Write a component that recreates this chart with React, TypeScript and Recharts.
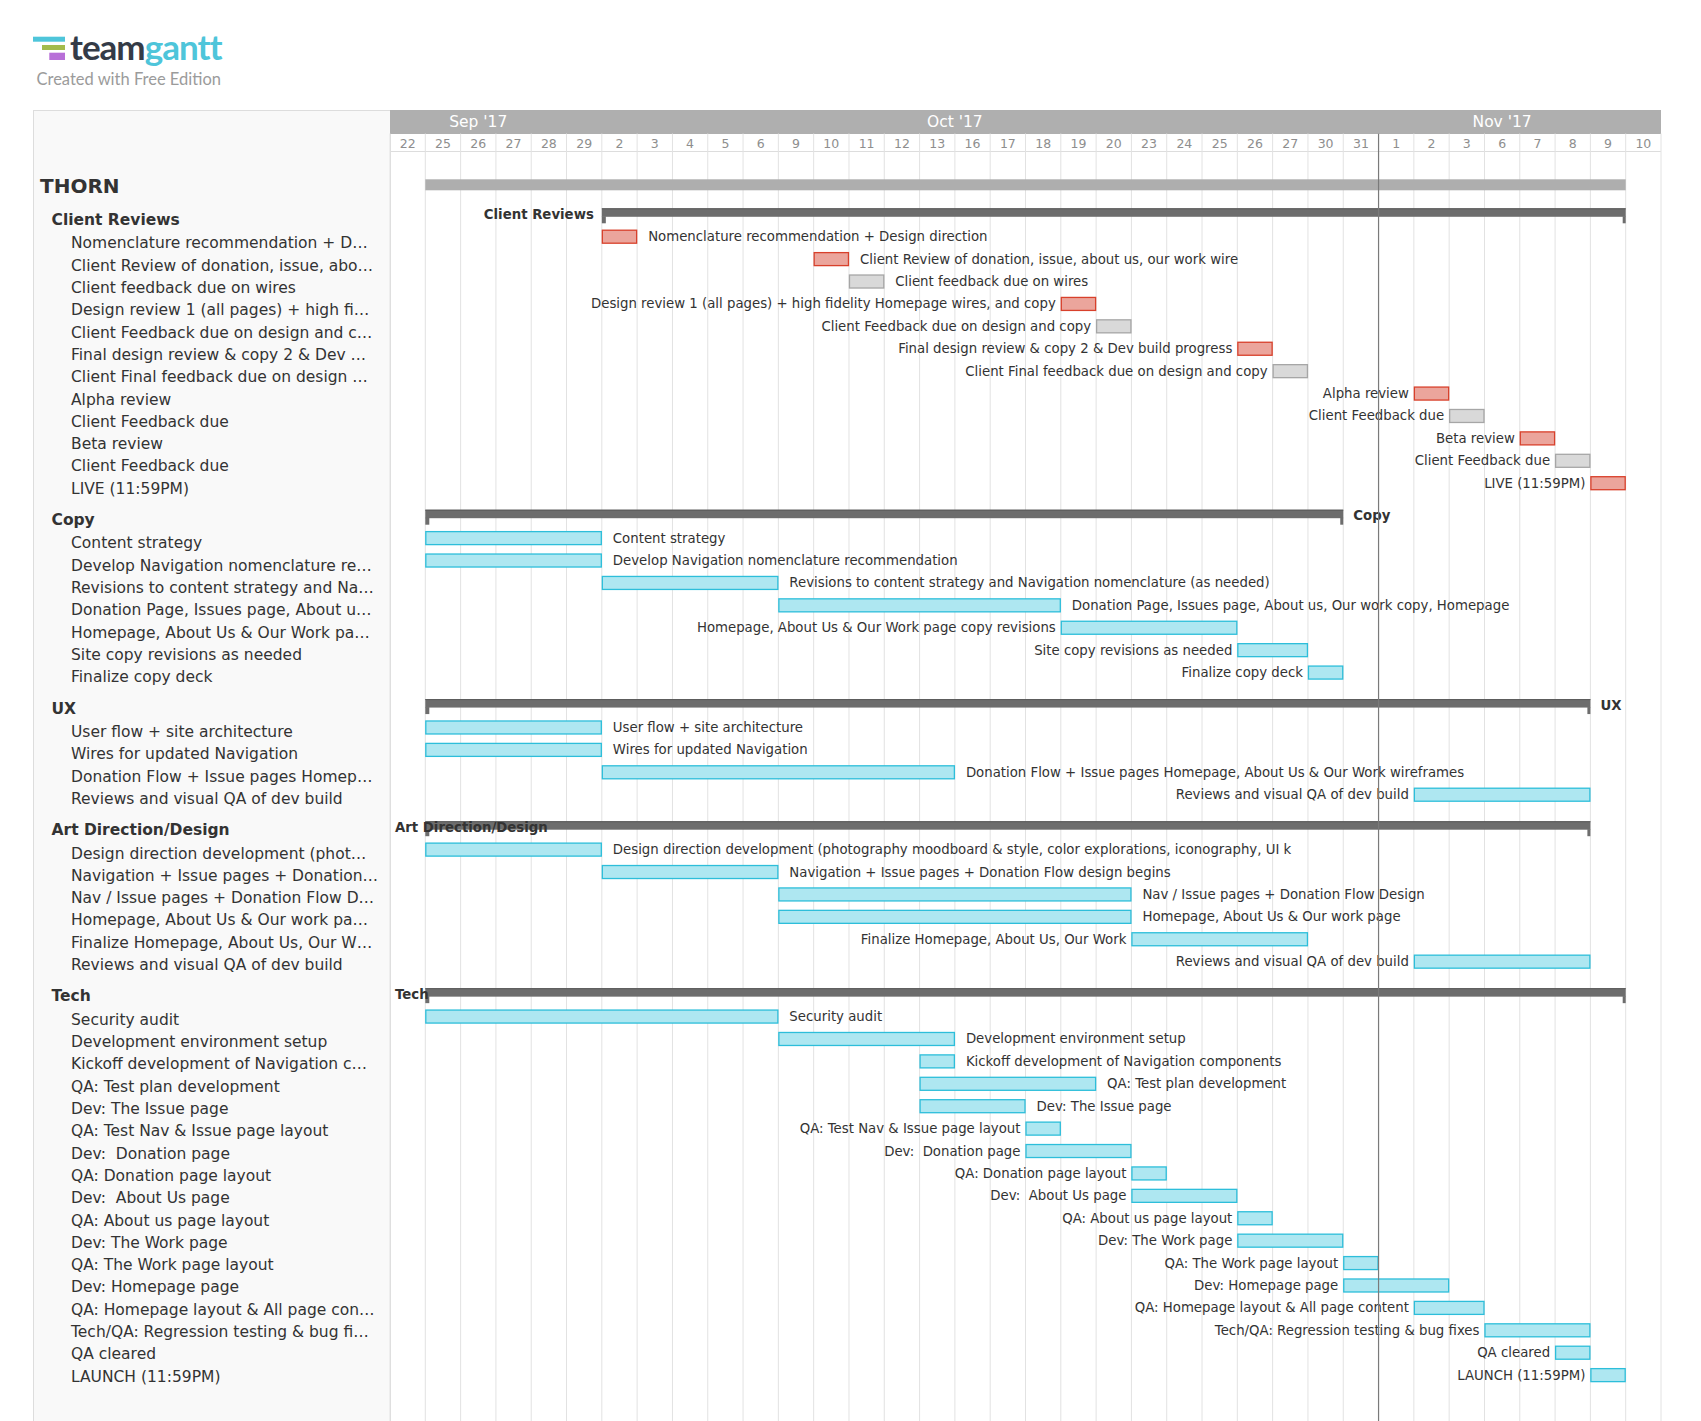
import React from 'react';
import { Bar, BarChart, CartesianGrid, ReferenceLine, XAxis, YAxis } from 'recharts';

// timeline columns (working days only)
const days = ['22', '25', '26', '27', '28', '29', '2', '3', '4', '5', '6', '9', '10', '11', '12', '13', '16', '17', '18', '19', '20', '23', '24', '25', '26', '27', '30', '31', '1', '2', '3', '6', '7', '8', '9', '10'];
const months = ["Sep '17", "Oct '17", "Nov '17"];
const monthMid = [2.5, 16, 31.5];
const todayCol = 28;

const projectName = 'THORN';
const projectSpan = [1, 35];

const groupNames = ['Client Reviews', 'Copy', 'UX', 'Art Direction/Design', 'Tech'];
const groupStart = [6, 1, 1, 1, 1];
const groupEnd = [35, 27, 34, 34, 35];

const reviewTasks = [
  'Nomenclature recommendation + Design direction',
  'Client Review of donation, issue, about us, our work wire',
  'Client feedback due on wires',
  'Design review 1 (all pages) + high fidelity Homepage wires, and copy',
  'Client Feedback due on design and copy',
  'Final design review & copy 2 & Dev build progress',
  'Client Final feedback due on design and copy',
  'Alpha review',
  'Client Feedback due',
  'Beta review',
  'Client Feedback due',
  'LIVE (11:59PM)',
];
const reviewStart = [6, 12, 13, 19, 20, 24, 25, 29, 30, 32, 33, 34];
const reviewEnd = [7, 13, 14, 20, 21, 25, 26, 30, 31, 33, 34, 35];
const reviewKind = ['review', 'review', 'due', 'review', 'due', 'review', 'due', 'review', 'due', 'review', 'due', 'review'];

const copyTasks = [
  'Content strategy',
  'Develop Navigation nomenclature recommendation',
  'Revisions to content strategy and Navigation nomenclature (as needed)',
  'Donation Page, Issues page, About us, Our work copy, Homepage',
  'Homepage, About Us & Our Work page copy revisions',
  'Site copy revisions as needed',
  'Finalize copy deck',
];
const copyStart = [1, 1, 6, 11, 19, 24, 26];
const copyEnd = [6, 6, 11, 19, 24, 26, 27];

const uxTasks = [
  'User flow + site architecture',
  'Wires for updated Navigation',
  'Donation Flow + Issue pages Homepage, About Us & Our Work wireframes',
  'Reviews and visual QA of dev build',
];
const uxStart = [1, 1, 6, 29];
const uxEnd = [6, 6, 16, 34];

const artTasks = [
  'Design direction development (photography moodboard & style, color explorations, iconography, UI k',
  'Navigation + Issue pages + Donation Flow design begins',
  'Nav / Issue pages + Donation Flow Design',
  'Homepage, About Us & Our work page',
  'Finalize Homepage, About Us, Our Work',
  'Reviews and visual QA of dev build',
];
const artStart = [1, 6, 11, 11, 21, 29];
const artEnd = [6, 11, 21, 21, 26, 34];

const techTasks = [
  'Security audit',
  'Development environment setup',
  'Kickoff development of Navigation components',
  'QA: Test plan development',
  'Dev: The Issue page',
  'QA: Test Nav & Issue page layout',
  'Dev:  Donation page',
  'QA: Donation page layout',
  'Dev:  About Us page',
  'QA: About us page layout',
  'Dev: The Work page',
  'QA: The Work page layout',
  'Dev: Homepage page',
  'QA: Homepage layout & All page content',
  'Tech/QA: Regression testing & bug fixes',
  'QA cleared',
  'LAUNCH (11:59PM)',
];
const techStart = [1, 11, 15, 15, 15, 18, 18, 21, 21, 24, 24, 27, 27, 29, 31, 33, 34];
const techEnd = [11, 16, 16, 20, 18, 19, 21, 22, 24, 25, 27, 28, 30, 31, 34, 34, 35];

// how the long names read in the task list on the left
const listLabels: Record<string, string> = {
  'Nomenclature recommendation + Design direction': 'Nomenclature recommendation + D…',
  'Client Review of donation, issue, about us, our work wire': 'Client Review of donation, issue, abo…',
  'Design review 1 (all pages) + high fidelity Homepage wires, and copy': 'Design review 1 (all pages) + high fi…',
  'Client Feedback due on design and copy': 'Client Feedback due on design and c…',
  'Final design review & copy 2 & Dev build progress': 'Final design review & copy 2 & Dev …',
  'Client Final feedback due on design and copy': 'Client Final feedback due on design …',
  'Develop Navigation nomenclature recommendation': 'Develop Navigation nomenclature re…',
  'Revisions to content strategy and Navigation nomenclature (as needed)': 'Revisions to content strategy and Na…',
  'Donation Page, Issues page, About us, Our work copy, Homepage': 'Donation Page, Issues page, About u…',
  'Homepage, About Us & Our Work page copy revisions': 'Homepage, About Us & Our Work pa…',
  'Donation Flow + Issue pages Homepage, About Us & Our Work wireframes': 'Donation Flow + Issue pages Homep…',
  'Design direction development (photography moodboard & style, color explorations, iconography, UI k': 'Design direction development (phot…',
  'Navigation + Issue pages + Donation Flow design begins': 'Navigation + Issue pages + Donation…',
  'Nav / Issue pages + Donation Flow Design': 'Nav / Issue pages + Donation Flow D…',
  'Homepage, About Us & Our work page': 'Homepage, About Us & Our work pa…',
  'Finalize Homepage, About Us, Our Work': 'Finalize Homepage, About Us, Our W…',
  'Kickoff development of Navigation components': 'Kickoff development of Navigation c…',
  'QA: Homepage layout & All page content': 'QA: Homepage layout & All page con…',
  'Tech/QA: Regression testing & bug fixes': 'Tech/QA: Regression testing & bug fi…',
};

type Row = { slot: number; name: string; start: number; end: number; kind: string; level: number };

const sections = [
  { names: reviewTasks, start: reviewStart, end: reviewEnd, kind: reviewKind },
  { names: copyTasks, start: copyStart, end: copyEnd },
  { names: uxTasks, start: uxStart, end: uxEnd },
  { names: artTasks, start: artStart, end: artEnd },
  { names: techTasks, start: techStart, end: techEnd },
];

const rows: Row[] = [];
let slot = 0;
rows.push({ slot, name: projectName, start: projectSpan[0], end: projectSpan[1], kind: 'project', level: 0 });
sections.forEach((sec, g) => {
  slot += 1.45;
  rows.push({ slot, name: groupNames[g], start: groupStart[g], end: groupEnd[g], kind: 'group', level: 1 });
  sec.names.forEach((name, i) => {
    slot += 1;
    rows.push({ slot, name, start: sec.start[i], end: sec.end[i], kind: sec.kind ? sec.kind[i] : 'task', level: 2 });
  });
});
const slots = rows.map((r) => r.slot);

// layout
const W = 1701;
const H = 1421;
const HEADER_TOP = 110;
const BAND_H = 23.5;
const PLOT_LEFT = 390;
const PLOT_RIGHT = 1661;
const PLOT_TOP = HEADER_TOP + BAND_H;
const COL_W = (PLOT_RIGHT - PLOT_LEFT) / days.length;
const ROW_PX = 22.41;
const FIRST_Y = 182;
const barDomain = [(PLOT_TOP - FIRST_Y) / ROW_PX, (H - FIRST_Y) / ROW_PX];
// the side list uses a slightly tighter row pitch than the timeline
const PANEL_ROW = 22.31;
const PANEL_FIRST = 193.7;
const gridTicks = Array.from({ length: days.length + 1 }, (_, i) => i);

const FONT = '"DejaVu Sans", Verdana, sans-serif';
const TEXT = '#333333';
const LABEL_SIZE = 13.3;

let ctx: CanvasRenderingContext2D | null = null;
const measure = (text: string, font: string) => {
  if (!ctx) ctx = document.createElement('canvas').getContext('2d');
  if (!ctx) return text.length * 7.5;
  ctx.font = font;
  return ctx.measureText(text).width;
};

const colors: Record<string, { fill: string; stroke: string }> = {
  task: { fill: '#AEE7F1', stroke: '#2DBEDA' },
  review: { fill: '#EBA59C', stroke: '#D8402B' },
  due: { fill: '#D9D9D9', stroke: '#A6A6A6' },
};

const barRange = (d: Row) => [d.start, d.end];

const renderBar = (props: any) => {
  const { x, y, width, height, payload } = props;
  if (x == null || y == null) return <g />;
  const r = payload as Row;
  const cy = y + height / 2;
  const x2 = x + width;
  if (r.kind === 'project') {
    return <rect x={x} y={cy - 2.5} width={width} height={11} fill="#AEAEAE" />;
  }
  if (r.kind === 'group') {
    const f = `bold ${LABEL_SIZE}px ${FONT}`;
    const w = measure(r.name, f);
    const right = x2 + 10 + w <= PLOT_RIGHT;
    const lx = right ? x2 + 10 : Math.max(x - 8 - w, PLOT_LEFT + 5);
    return (
      <g>
        <rect x={x} y={cy - 6} width={width} height={8.5} fill="#6D6D6D" />
        <rect x={x} y={cy - 6} width={width} height={1} fill="#5A5A5A" />
        <rect x={x} y={cy + 2} width={4} height={7} fill="#6D6D6D" />
        <rect x={x2 - 3} y={cy + 2} width={3} height={7} fill="#6D6D6D" />
        <text x={lx} y={cy + 4.5} fontFamily={FONT} fontSize={LABEL_SIZE} fontWeight="bold" fill={TEXT}>
          {r.name}
        </text>
      </g>
    );
  }
  const c = colors[r.kind];
  const left = r.start >= days.length / 2;
  return (
    <g>
      <rect x={x + 0.5} y={cy - 6.5} width={width - 1} height={13} fill={c.fill} stroke={c.stroke} strokeWidth={1.3} />
      <text
        x={left ? x - 5 : x2 + 11}
        y={cy + 4.5}
        textAnchor={left ? 'end' : 'start'}
        fontFamily={FONT}
        fontSize={LABEL_SIZE}
        fill={TEXT}
        style={{ whiteSpace: 'pre' }}
      >
        {r.name}
      </text>
    </g>
  );
};

const renderDayTick = (props: any) => {
  const { x, index, payload } = props;
  if (index >= days.length) return <g />;
  const v = payload.value;
  return (
    <g>
      <text x={x + COL_W / 2} y={148} textAnchor="middle" fontFamily={FONT} fontSize={12.5} fill="#8E8E8E">
        {days[index]}
      </text>
      {months.map((m, k) =>
        Math.floor(monthMid[k]) === v ? (
          <text key={m} x={x + (monthMid[k] - v) * COL_W} y={127} textAnchor="middle" fontFamily={FONT} fontSize={15.5} fill="#FFFFFF">
            {m}
          </text>
        ) : null,
      )}
    </g>
  );
};

const renderPanelTick = (props: any) => {
  const { y, index } = props;
  const r = rows[index];
  if (!r) return <g />;
  const ty = y + (PANEL_FIRST - FIRST_Y) + r.slot * (PANEL_ROW - ROW_PX);
  if (r.level === 0) {
    return (
      <text x={40} y={ty - 1} fontFamily={FONT} fontSize={20} fontWeight="bold" fill={TEXT}>
        {r.name}
      </text>
    );
  }
  if (r.level === 1) {
    return (
      <text x={51.5} y={ty - 1} fontFamily={FONT} fontSize={15.5} fontWeight="bold" fill={TEXT}>
        {r.name}
      </text>
    );
  }
  return (
    <text x={71} y={ty} fontFamily={FONT} fontSize={15.5} fill={TEXT} style={{ whiteSpace: 'pre' }}>
      {listLabels[r.name] ?? r.name}
    </text>
  );
};

export default function App() {
  return (
    <div style={{ position: 'absolute', left: 0, top: 0, width: W, height: H, background: '#FFFFFF', overflow: 'hidden' }}>
      <div
        style={{
          position: 'absolute',
          left: 33,
          top: HEADER_TOP,
          width: PLOT_LEFT - 34,
          height: H,
          background: '#F9F9F9',
          border: '1px solid #DDDDDD',
        }}
      />
      <div style={{ position: 'absolute', left: PLOT_LEFT, top: HEADER_TOP, width: PLOT_RIGHT - PLOT_LEFT, height: BAND_H, background: '#AFAFAF' }} />
      <div style={{ position: 'absolute', left: PLOT_LEFT, top: 150.5, width: PLOT_RIGHT - PLOT_LEFT, height: 1, background: '#DDDDDD' }} />
      <svg style={{ position: 'absolute', left: 0, top: 0 }} width={260} height={100}>
        <rect x={33} y={36.7} width={32} height={5} fill="#4EC5DA" />
        <rect x={42} y={45} width={23} height={5} fill="#A3BB4C" />
        <rect x={49.3} y={52.7} width={15.7} height={7.3} fill="#B86FD8" />
        <text x={70} y={60} fontFamily="Lato, sans-serif" fontWeight="bold" fontSize={35} letterSpacing={-1}>
          <tspan fill="#343B47">team</tspan>
          <tspan fill="#4EC5DA">gantt</tspan>
        </text>
        <text x={36.5} y={85} fontFamily="Lato, sans-serif" fontSize={16.5} fill="#9B9B9B">
          Created with Free Edition
        </text>
      </svg>
      <div style={{ position: 'absolute', left: 0, top: 0 }}>
        <BarChart
          width={W}
          height={H}
          data={rows}
          layout="vertical"
          margin={{ top: HEADER_TOP, right: W - PLOT_RIGHT, bottom: 0, left: 0 }}
        >
          <CartesianGrid xAxisId="day" yAxisId="bars" vertical horizontal={false} stroke="#E2E2E2" />
          <XAxis
            xAxisId="day"
            type="number"
            orientation="top"
            domain={[0, days.length]}
            ticks={gridTicks}
            interval={0}
            height={BAND_H}
            axisLine={false}
            tickLine={false}
            tick={renderDayTick}
            allowDataOverflow
          />
          <YAxis
            yAxisId="bars"
            type="number"
            dataKey="slot"
            domain={barDomain}
            ticks={slots}
            interval={0}
            width={PLOT_LEFT}
            axisLine={false}
            tickLine={false}
            tick={renderPanelTick}
            allowDataOverflow
          />
          <ReferenceLine xAxisId="day" yAxisId="bars" x={todayCol} stroke="#7A7A7A" strokeWidth={1.2} />
          <Bar xAxisId="day" yAxisId="bars" dataKey={barRange} barSize={14} shape={renderBar} isAnimationActive={false} />
        </BarChart>
      </div>
    </div>
  );
}
